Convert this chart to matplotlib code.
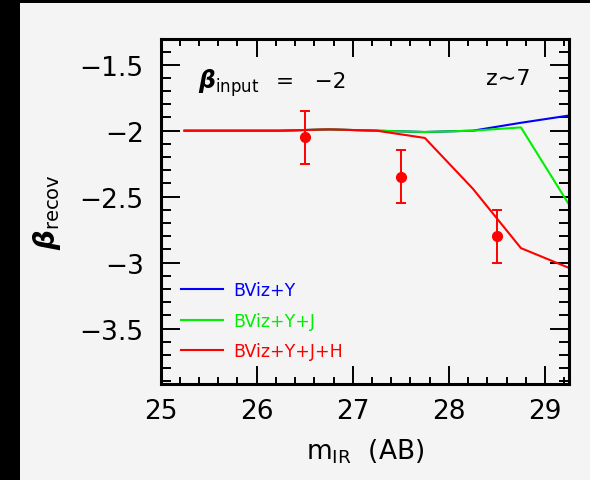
import matplotlib
matplotlib.use("Agg")
import matplotlib.pyplot as plt
from matplotlib.patches import Rectangle
from matplotlib.ticker import MultipleLocator

plt.rcParams['font.family'] = ['DejaVu Sans']
plt.rcParams['mathtext.fontset'] = 'custom'
plt.rcParams['mathtext.rm'] = 'DejaVu Sans'
plt.rcParams['mathtext.it'] = 'DejaVu Sans:italic:bold'
plt.rcParams['axes.unicode_minus'] = True

# Recovered beta vs. IR magnitude for three filter sets
mag = [25.25, 25.75, 26.25, 26.75, 27.25, 27.75, 28.25, 28.75, 29.25]
beta_y = [-2.00, -2.00, -2.00, -1.99, -2.00, -2.01, -2.00, -1.94, -1.885]
beta_yj = [-2.00, -2.00, -2.00, -1.99, -2.00, -2.01, -2.00, -1.975, -2.56]
beta_yjh = [-2.00, -2.00, -2.00, -1.99, -2.00, -2.055, -2.44, -2.89, -3.04]

# Binned measurements with uncertainties
pt_mag = [26.5, 27.5, 28.5]
pt_beta = [-2.05, -2.35, -2.80]
pt_err = [0.20, 0.20, 0.20]

labels = ['BViz+Y', 'BViz+Y+J', 'BViz+Y+J+H']
colors = ['#0000ff', '#00ee00', '#ff0000']

W, H = 590, 481
fig = plt.figure(figsize=(W / 100, H / 100), dpi=100)
fig.patch.set_facecolor('black')
bg = '#f4f4f4'
fig.add_artist(Rectangle((20 / W, 0), 1 - 20 / W, 1 - 4 / H,
                         transform=fig.transFigure, facecolor=bg,
                         edgecolor='none', zorder=-10))

ax = fig.add_axes([160.5 / W, 1 - 385 / H, (569 - 160.5) / W, (385 - 40) / H])
ax.set_facecolor(bg)

for yvals, lab, c in zip([beta_y, beta_yj, beta_yjh], labels, colors):
    ax.plot(mag, yvals, color=c, lw=1.5, label=lab)

ax.errorbar(pt_mag, pt_beta, yerr=pt_err, fmt='o', color='#ff0000',
            ms=7, capsize=3.6, capthick=1.4, elinewidth=1.4)

ax.set_xlim(25, 29.25)
ax.set_ylim(-3.92, -1.305)
ax.xaxis.set_minor_locator(MultipleLocator(0.2))
ax.yaxis.set_minor_locator(MultipleLocator(0.1))
ax.set_xticks([25, 26, 27, 28, 29])
ax.set_xticklabels(['25', '26', '27', '28', '29'])
ax.set_yticks([-3.5, -3, -2.5, -2, -1.5])
ax.set_yticklabels(['\u22123.5', '\u22123', '\u22122.5', '\u22122', '\u22121.5'])

for s in ax.spines.values():
    s.set_linewidth(2.2)
ax.tick_params(axis='both', which='both', direction='in', top=True, right=True,
               width=1.4, labelsize=19, colors='black')
ax.tick_params(axis='x', which='major', length=13, pad=10)
ax.tick_params(axis='x', which='minor', length=5)
ax.tick_params(axis='y', which='major', length=14, pad=12)
ax.tick_params(axis='y', which='minor', length=7)

ax.set_xlabel(r'm$_{\mathrm{IR}}$  (AB)', fontsize=19, labelpad=9)
ax.set_ylabel(r'$\beta_{\mathrm{recov}}$', fontsize=20, labelpad=12)

ax.text(0.092, 0.86, r'$\beta_{\mathrm{input}}$', transform=ax.transAxes,
        fontsize=17, ha='left', va='baseline')
ax.text(0.282, 0.86, '=   \u22122', transform=ax.transAxes,
        fontsize=15.5, ha='left', va='baseline')
ax.text(0.905, 0.87, 'z\u223c7', transform=ax.transAxes, fontsize=16,
        ha='right', va='baseline')

leg = ax.legend(loc='lower left', bbox_to_anchor=(0.03, 0.043), frameon=False,
                fontsize=12.5, handlelength=2.4, handletextpad=0.6,
                labelspacing=0.72, borderpad=0, labelcolor='linecolor')

fig.savefig('out.png', dpi=100, facecolor=fig.get_facecolor())
